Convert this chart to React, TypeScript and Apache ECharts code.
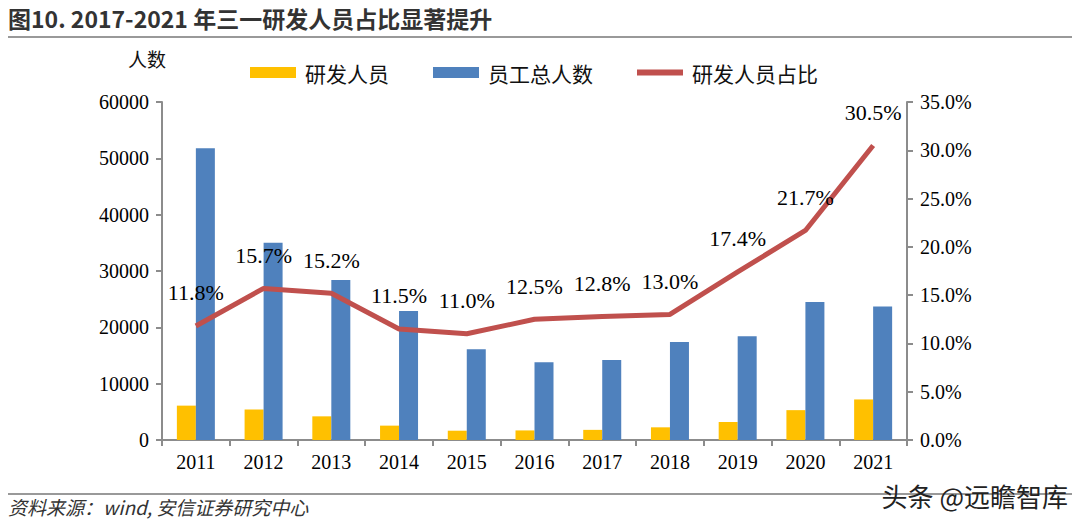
import React, { useEffect, useRef } from "react";
import * as echarts from "echarts";

const categories = ["2011", "2012", "2013", "2014", "2015", "2016", "2017", "2018", "2019", "2020", "2021"];
const rdStaff = [6100, 5400, 4200, 2550, 1650, 1700, 1800, 2250, 3200, 5300, 7200];
const totalStaff = [51800, 35000, 28400, 22900, 16100, 13800, 14200, 17400, 18400, 24500, 23700];
const rdRatio = [11.8, 15.7, 15.2, 11.5, 11.0, 12.5, 12.8, 13.0, 17.4, 21.7, 30.5];

const title = "图10. 2017-2021 年三一研发人员占比显著提升";
const source = "资料来源：wind, 安信证券研究中心";
const watermark = "头条 @远瞻智库";

const serif = "'Liberation Serif', 'Times New Roman', serif";
const cjk = "'Noto Sans CJK SC', sans-serif";

export default function App() {
  const ref = useRef<HTMLDivElement>(null);
  useEffect(() => {
    const chart = echarts.init(ref.current!, null, { renderer: "svg" });
    const axisLine = { show: true, lineStyle: { color: "#8c8c8c", width: 2 } };
    const tick = { show: true, length: 6, lineStyle: { color: "#8c8c8c", width: 2 } };
    chart.setOption({
      animation: false,
      backgroundColor: "#ffffff",
      grid: { left: 162, right: 173, top: 102, bottom: 85 },
      legend: {
        top: 57,
        left: 245,
        itemWidth: 46,
        itemHeight: 11,
        itemGap: 44,
        textStyle: { fontFamily: cjk, fontSize: 21, color: "#111", padding: [0, 0, 0, 4] },
        data: [
          { name: "研发人员", icon: "rect" },
          { name: "员工总人数", icon: "rect" },
          { name: "研发人员占比", icon: "path://M0,0 L46,0 L46,6 L0,6 Z" },
        ],
      },
      xAxis: {
        type: "category",
        data: categories,
        axisLine,
        axisTick: tick,
        axisLabel: { fontFamily: serif, fontSize: 20, color: "#000", margin: 12 },
      },
      yAxis: [
        {
          type: "value",
          min: 0,
          max: 60000,
          interval: 10000,
          axisLine,
          axisTick: tick,
          splitLine: { show: false },
          axisLabel: {
            fontFamily: serif,
            fontSize: 20,
            color: "#000",
            margin: 13,
            formatter: (v: number) => String(v),
          },
        },
        {
          type: "value",
          min: 0,
          max: 35,
          interval: 5,
          axisLine,
          axisTick: tick,
          splitLine: { show: false },
          axisLabel: {
            fontFamily: serif,
            fontSize: 20,
            color: "#000",
            margin: 13,
            formatter: (v: number) => v.toFixed(1) + "%",
          },
        },
      ],
      series: [
        {
          name: "研发人员",
          type: "bar",
          data: rdStaff,
          barWidth: 19,
          barGap: "0%",
          itemStyle: { color: "#FFC000" },
        },
        {
          name: "员工总人数",
          type: "bar",
          data: totalStaff,
          barWidth: 19,
          barGap: "0%",
          itemStyle: { color: "#4F81BD" },
        },
        {
          name: "研发人员占比",
          type: "line",
          yAxisIndex: 1,
          data: rdRatio,
          symbol: "circle",
          symbolSize: 0.1,
          showSymbol: true,
          lineStyle: { color: "#C0504D", width: 5 },
          itemStyle: { color: "#C0504D" },
          label: {
            show: true,
            position: "top",
            distance: 22,
            fontFamily: serif,
            fontSize: 22,
            color: "#000",
            formatter: (p: any) => p.value.toFixed(1) + "%",
          },
        },
      ],
      graphic: [
        {
          type: "text",
          left: 8,
          top: 6,
          style: { text: title, fontFamily: cjk, fontSize: 23, fontWeight: "bold", fill: "#333" },
        },
        {
          type: "line",
          shape: { x1: 8, y1: 37, x2: 1072, y2: 37 },
          style: { stroke: "#777", lineWidth: 1.5 },
        },
        {
          type: "text",
          left: 128,
          top: 49,
          style: { text: "人数", fontFamily: cjk, fontSize: 19, fill: "#111" },
        },
        {
          type: "line",
          shape: { x1: 8, y1: 494, x2: 1072, y2: 494 },
          style: { stroke: "#777", lineWidth: 1.5 },
        },
        {
          type: "text",
          left: 8,
          top: 497,
          style: { text: source, fontFamily: cjk, fontSize: 19, fontStyle: "italic", fill: "#333" },
        },
        {
          type: "text",
          right: 12,
          top: 482,
          style: { text: watermark, fontFamily: cjk, fontSize: 26, fill: "#222" },
        },
      ],
    });
    return () => chart.dispose();
  }, []);
  return <div ref={ref} style={{ width: 1080, height: 525, position: "absolute", left: 0, top: 0 }} />;
}
